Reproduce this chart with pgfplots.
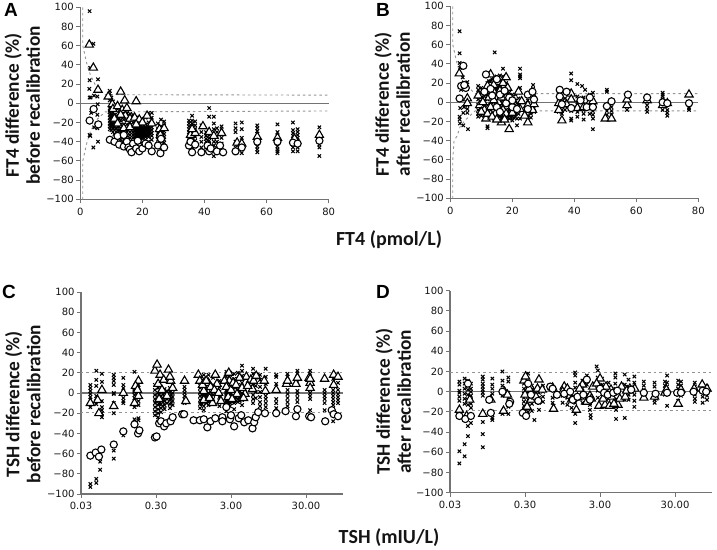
\documentclass[border=0pt]{standalone}
\usepackage{pgfplots}
\pgfplotsset{compat=1.18}
\usepackage{fontspec}
\setmainfont{DejaVu Sans}
\newfontfamily\lab{Carlito}
\newfontfamily\pan{Liberation Sans}
\definecolor{ax}{gray}{0.45}
\definecolor{txt}{gray}{0.08}
\pgfplotsset{
 panel/.style={scale only axis,axis x line=bottom,axis y line=left,
  axis line style={ax,line width=1.1pt,-},
  tick style={ax,line width=.9pt},major tick length=4pt,tick align=outside,
  ymin=-100,ymax=100,ytick={-100,-80,...,100},
  yticklabels={−100,−80,−60,−40,−20,0,20,40,60,80,100},
  tick label style={font=\fontsize{10}{10}\selectfont,text=txt},
  xticklabel style={yshift=-1pt},
  yticklabel style={xshift=1pt},
  clip=false,
  ylabel style={font=\lab\bfseries\fontsize{19.3}{21}\selectfont,align=center,text=txt},
 },
 ftaxis/.style={panel,width=248.4pt,height=192pt,xmin=0,xmax=80,xtick={0,20,40,60,80},xticklabels={0,20,40,60,80}},
 tshaxis/.style={panel,width=261.7pt,height=202pt,xmin=0.03,xmax=92.4,
   xtick={0.03,0.3,3,30},xticklabels={0.03,0.30,3.00,30.00},minor xtick={}},
 xs/.style={only marks,mark=x,mark size=2.4pt,mark options={black,line width=1.05pt},black},
 tr/.style={only marks,mark=triangle*,mark size=4.8pt,mark options={fill=white,draw=black,line width=1.1pt},black},
 ci/.style={only marks,mark=*,mark size=3.6pt,mark options={fill=white,draw=black,line width=1.1pt},black},
 zero/.style={no marks,ax,line width=1.4pt},
 lim/.style={no marks,gray!85,line width=.9pt,dash pattern=on 2.5pt off 3pt},
}
\begin{document}
\begin{tikzpicture}[x=1pt,y=1pt]
\path[use as bounding box] (0,0) rectangle (717,549);
\node[font=\pan\bfseries\fontsize{19}{19}\selectfont] at (11,539.5) {A};
\node[font=\pan\bfseries\fontsize{19}{19}\selectfont] at (383,539.5) {B};
\node[font=\pan\bfseries\fontsize{19}{19}\selectfont] at (9,257) {C};
\node[font=\pan\bfseries\fontsize{19}{19}\selectfont] at (383,257) {D};
\node[font=\lab\bfseries\fontsize{20}{20}\selectfont,text=txt] at (389,309) {FT4 (pmol/L)};
\node[font=\lab\bfseries\fontsize{20}{20}\selectfont,text=txt] at (389,11) {TSH (mIU/L)};

%% A
\begin{axis}[ftaxis,at={(80.3pt,349.7pt)},anchor=south west,
 ylabel={FT4 difference (\%)\\before recalibration},
 ylabel style={at={(axis description cs:-0.234,0.49)},anchor=center}]
\addplot[lim] coordinates {(0.8,100)(0.8,60)(2.2,40)(3.2,30)(5,18)(8,9)(80,8.5)};
\addplot[lim] coordinates {(0.8,-100)(0.8,-60)(2.2,-40)(3.2,-30)(5,-18)(8,-9)(80,-8)};
\addplot[zero] coordinates {(0,0)(80,0)};
\addplot[xs] coordinates {(3,96)(4.2,62)(3.2,37)(3,24)(2.9,15)(5.7,25)(3,6)(3.3,6)(4.4,8)(5.5,7)(3,-33)(3.2,-34)(4.2,-46)(5.7,-40)(4.5,-25)(5.5,-26)(3.5,-10)(5.5,-12)(5.6,-1)
(9.5,13)(9.5,10)(9.5,3)(9.5,-5)(9.5,-9)(9.5,-12)(9.5,-15)(9.5,-18)(9.5,-21)(9.5,-24)(9.5,-27)
(10,6)(10,-8)(10,-12)(10,-16)(10,-20)(10,-24)(10,-28)(10.5,2)(10.5,-10)(10.5,-14)(10.5,-18)(10.5,-22)(10.5,-26)(10.5,-30)
(11,-3)(11,-12)(11,-16)(11,-20)(11,-24)(11,-28)(11,-32)(12,-6)(12,-12)(12,-16)(12,-20)(12,-24)(12,-28)(12,-32)(12,-36)
(13,-8)(13,-14)(13,-18)(13,-22)(13,-26)(13,-30)(13,-34)(13,-38)(14,-8)(14,-13)(14,-17)(14,-22)(14,-26)(14,-30)(14,-34)(14,-38)(14,-42)
(15,-10)(15,-14)(15,-18)(15,-22)(15,-26)(15,-30)(15,-34)(15,-38)(15,-42)(16,-11)(16,-15)(16,-20)(16,-24)(16,-27)(16,-30)(16,-33)(16,-36)(16,-40)(16,-44)
(17,-12)(17,-16)(17,-20)(17,-24)(17,-27)(17,-30)(17,-33)(17,-36)(17,-40)(17,-48)
(18,-15)(18,-19)(18,-23)(18,-26)(18,-28)(18,-30)(18,-32)(18,-34)(18,-36)(18,-38)(18,-44)(18,-50)
(19,-16)(19,-20)(19,-24)(19,-26)(19,-28)(19,-30)(19,-32)(19,-34)(19,-36)(19,-40)(19,-50)
(20,-18)(20,-22)(20,-25)(20,-27)(20,-29)(20,-31)(20,-33)(20,-35)(20,-37)(20,-42)
(21,-15)(21,-22)(21,-25)(21,-27)(21,-29)(21,-31)(21,-33)(21,-35)(21,-38)(21,-45)
(22,-10)(22,-14)(22,-20)(22,-25)(22,-27)(22,-29)(22,-31)(22,-33)(22,-35)(22,-40)
(23,-10)(23,-15)(23,-21)(23,-25)(23,-28)(23,-31)(23,-34)(23,-38)
(17.5,-26)(17.5,-29)(17.5,-32)(17.5,-35)(18.5,-25)(18.5,-27)(18.5,-29)(18.5,-31)(18.5,-33)(18.5,-35)(19.5,-25)(19.5,-27)(19.5,-29)(19.5,-31)(19.5,-33)(19.5,-35)(20.5,-26)(20.5,-28)(20.5,-30)(20.5,-32)(20.5,-34)(21.5,-26)(21.5,-28)(21.5,-30)(21.5,-32)(21.5,-34)(22.5,-26)(22.5,-29)(22.5,-32)
(9.8,-11)(9.8,-14)(9.8,-17)(9.8,-20)(9.8,-23)(10.8,-13)(10.8,-16)(10.8,-19)(10.8,-22)(10.8,-25)(11.5,-14)(11.5,-18)(11.5,-22)(11.5,-26)(12.5,-16)(12.5,-20)(12.5,-24)(12.5,-28)
(25,-21)(25,-27)(25,-31)(25,-35)(25,-38)(25,-42)(26,-17)(26,-24)(26,-28)(26,-31)(26,-34)(26,-37)(26,-40)(27,-19)(27,-23)(27,-29)(27,-32)(27,-35)(27,-38)(27,-41)
(35,-18)(35,-21)(35,-24)(35,-27)(35,-30)(35,-33)(35,-36)(35,-40)(35,-44)(36,-13)(36,-18)(36,-21)(36,-24)(36,-28)(36,-32)(36,-36)(36,-40)(36,-46)
(37,-19)(37,-23)(37,-27)(37,-31)(37,-35)(37,-39)(37,-45)(39,-23)(39,-30)(39,-35)(39,-40)(39,-46)(39,-50)
(40.5,-30)(40.5,-34)(40.5,-37)(40.5,-40)(40.5,-43)(40.5,-46)(41.5,-5)(41.5,-14)(41.5,-33)(41.5,-36)(41.5,-39)(41.5,-42)(41.5,-45)(41.5,-48)
(43,-14)(43,-21)(43,-27)(43,-36)(43,-40)(43,-44)(43,-55)(44,-26)(44,-30)(44,-35)(44,-40)(44,-47)(45.5,-24)(45.5,-28)(45.5,-36)(45.5,-42)(45.5,-50)
(50,-21)(50,-26)(50,-30)(50,-40)(50,-44)(50,-52)(52,-20)(52,-27)(52,-36)(52,-42)(52,-48)(52,-52)
(57,-23)(57,-26)(57,-29)(57,-32)(57,-35)(57,-38)(57,-42)(57,-45)(57,-48)(57,-51)
(63.5,-22)(63.5,-30)(63.5,-34)(63.5,-38)(63.5,-42)(63.5,-45)(63.5,-48)(63.5,-50)(63.5,-52)
(68.5,-20)(68.5,-28)(68.5,-31)(68.5,-34)(68.5,-37)(68.5,-40)(68.5,-43)(68.5,-46)(68.5,-50)
(70,-27)(70,-30)(70,-33)(70,-36)(70,-39)(70,-42)(70,-46)(70,-50)(77,-25)(77,-33)(77,-38)(77,-43)(77,-46)(77,-55)};
\addplot[tr] coordinates {(2.9,61)(4.2,37)(5.7,14)(9,7)(10.3,-1)(10.5,-6)(12,-3)(13,12)(13.5,-7)(14.3,3)(15,-5)(14.5,-13)(16,-16)(18,2)(17.5,-15)(19,-17)(20,-20)(21.5,-13)(23,-21)(25.5,-27)(25.8,-33)(27,-26)(11,-16)(12,-21)(14,-26)(13,-12)(16,-25)(18,-22)(35.5,-33)(37,-31)(39.5,-24)(41.5,-30)(43,-34)(45.5,-31)(50.5,-41)(52,-42)(57,-35)(63.5,-36)(69,-37)(77,-33)(36,-27)};
\addplot[ci] coordinates {(3,-18)(4.3,-6)(5.8,-22)(9.5,-38)(11,-40)(12,-34)(12.5,-43)(14,-33)(14,-45)(15,-40)(15.5,-46)(16,-48)(16.5,-51)(17,-42)(18,-47)(18.5,-39)(19,-50)(20,-47)(21,-42)(23,-50)(22,-44)(25,-44)(25.8,-52)(26,-37)(27,-46)(35,-44)(35.5,-40)(36,-51)(37,-43)(39,-51)(41,-44)(41.5,-50)(42,-47)(44,-50)(45,-44)(46,-51)(50,-50)(52,-46)(57,-40)(63.5,-40)(68.5,-41)(70,-42)(77,-39)};
\end{axis}

%% B
\begin{axis}[ftaxis,width=248pt,at={(450.3pt,350.7pt)},anchor=south west,
 ylabel={FT4 difference (\%)\\after recalibration},
 ylabel style={at={(axis description cs:-0.234,0.49)},anchor=center}]
\addplot[lim] coordinates {(0.8,100)(0.8,60)(2.2,40)(3.2,30)(5,18)(8,9)(80,9)};
\addplot[lim] coordinates {(0.8,-100)(0.8,-60)(1.2,-40)(2.2,-35)(3.2,-25)(5,-18)(8,-9)(80,-9)};
\addplot[zero] coordinates {(0,0)(80,0)};
\addplot[xs] coordinates {(3,74)(3,51)(3,41)(3.2,36)(4,26)(5.5,21)(3.2,17)(3.5,13)(3.2,-6)(4.4,-5)(5.5,-3)(3,-15)(3,-18)(3.1,-22)(4.2,-24)(4.2,-11)(5.5,-11)(5.5,-7)(5.7,-28)
(9,17)(9,13)(9,8)(9,3)(9,-3)(9,-8)(9,-12)(9,-15)(10,15)(10,10)(10,5)(10,0)(10,-5)(10,-10)(10,-14)(11,11)(11,6)(11,1)(11,-4)(11,-9)(11,-14)
(12,-27)(12,-25)(12,20)(12,15)(12,8)(12,3)(12,-3)(12,-9)(12,-15)(13,22)(13,16)(13,10)(13,4)(13,-2)(13,-8)(13,-14)(14.3,52)(14,25)(14,18)(14,12)(14,6)(14,0)(14,-6)(14,-12)(14,-17)
(15,27)(15,20)(15,14)(15,8)(15,2)(15,-4)(15,-10)(15,-16)(16,28)(16,21)(16,15)(16,9)(16,3)(16,-3)(16,-9)(16,-15)(16,-19)(17,35)(17,27)(17,22)(17,14)(17,8)(17,2)(17,-4)(17,-10)(17,-16)(17,-19)
(18,27)(18,20)(18,10)(18,4)(18,-2)(18,-8)(18,-11)(18,-14)(18,-17)(19,10)(19,5)(19,0)(19,-5)(19,-8)(19,-11)(19,-14)(19,-17)(20,8)(20,3)(20,-3)(20,-8)(20,-12)(20,-15)(20,-19)
(17.5,-9)(17.5,-12)(17.5,-15)(18.5,-10)(18.5,-13)(18.5,-16)(19.5,-10)(19.5,-13)(19.5,-16)(20.5,-10)(20.5,-13)(20.5,-16)(21,-11)(22,-12)
(12.5,22)(13.5,24)(14.5,20)(15.5,23)(14.5,14)(15.5,16)
(21,8)(21,2)(21,-4)(21,-9)(21,-13)(21.5,-24)(21.5,-17)(22,10)(22,4)(22,-2)(22,-8)(22.5,35)(22.5,29)(22.5,27)(22.5,25)(22.5,15)(22.5,-17)
(25,8)(25,2)(25,-6)(25,-10)(25,-14)(25,-18)(26,-3)(26,-8)(26,-12)(26,-16)(26.7,18)(26.7,14)(27,6)(27,0)(27,-6)(27,-10)
(35,8)(35,3)(35,-2)(35,-6)(35,-10)(36,5)(36,1)(36,-1)(36,-4)(36,-8)(36,-12)(37,4)(37,0)(37,-4)(37,-8)
(39,30)(39,23)(39,3)(39,-5)(39,-9)(39,-17)(39,-19)(41,19)(41,6)(41,0)(41,-5)(41,-10)(41,-15)(42.5,17)(43.5,13)(43,5)(43,-3)(43,-8)(43,-12)(43,-18)(45,8)(45,2)(45,-6)(45,-12)(46,10)(46,5)(46,-2)(46,-9)(46,-13)(46,-17)(46,-28)
(50.5,13)(50.5,11)(50.5,-3)(50.5,-9)(50.5,-13)(52,-5)(52,-9)(52,-13)(57,5)(57,1)(57,-4)(57,-8)(63.5,2)(63.5,-3)(63.5,-7)(63.5,-10)
(68.5,10)(68.5,8)(68.5,6)(68.5,3)(68.5,-2)(68.5,-8)(70,-2)(70,-8)(70,-11)(70,-14)(77,-3)(77,-6)(77,-8)};
\addplot[tr] coordinates {(2.9,30)(4,17)(5.5,4)(5.5,-1)(9,7)(9.5,-3)(10.5,0)(11,-8)(11.5,-17)(12.5,5)(13,29)(13,-5)(14,11)(14.5,-12)(15.5,21)(15.5,0)(16.5,-21)(17,20)(17,-8)(18,26)(18,5)(18,-12)(19,-28)(19,0)(20,-11)(21,-4)(22,11)(22.5,-7)(25,-21)(25,-3)(26.5,-8)(27,-2)(35,-8)(35,-1)(36,-19)(37.5,-2)(39,9)(39,3)(41,-6)(43,-5)(45,0)(46,1)(50,-17)(52,-17)(57,-3)(57,3)(63.5,2)(68.5,-3)(70,-1)(77,8)
(10,-10)(12,-12)(13.5,-15)(14,2)(15,-18)(16,12)(16.5,5)(17.5,-18)(18.5,15)(12,17)(14,18)(20.5,-5)(23,1)(24,-14)};
\addplot[ci] coordinates {(3,4)(4.2,38)(3.5,17)(5,15)(4.5,18)(11.5,29)(11,11)(13,14)(13.5,7)(15,24)(15,-5)(16,-10)(16,8)(17.5,12)(18,-1)(19,5)(20,-5)(20,2)(21.5,-7)(25,8)(25,-7)(26.5,11)(27,3)(35.3,13)(35.3,6)(36,-2)(37.5,11)(39,-6)(42,2)(44,-5)(45,5)(46,-5)(50.5,-4)(52,1)(57.3,8)(63.5,5)(68.5,0)(70,-1)(77,-1)};
\end{axis}

%% C
\begin{semilogxaxis}[tshaxis,log basis x=10,at={(81pt,55pt)},anchor=south west,
 ylabel={TSH difference (\%)\\before recalibration},
 ylabel style={at={(axis description cs:-0.222,0.445)},anchor=center}]
\addplot[lim] coordinates {(0.03,20)(92.4,20)};
\addplot[lim] coordinates {(0.03,-19)(92.4,-19)};
\addplot[zero] coordinates {(0.03,0)(92.4,0)};
\addplot[xs] coordinates {(0.04,8)(0.04,5)(0.04,2)(0.04,-1)(0.04,-4)(0.04,-7)(0.04,-10)(0.04,-14)(0.04,-90)(0.04,-93)
(0.048,22)(0.048,13)(0.048,7)(0.048,-3)(0.048,-6)(0.048,-8)(0.048,-11)(0.048,-85)(0.048,-89)
(0.057,19)(0.057,11)(0.057,2)(0.057,-8)(0.057,-14)(0.057,-17)(0.057,-20)(0.057,-24)(0.054,-68)(0.054,-76)(0.054,-62)
(0.082,18)(0.082,15)(0.082,12)(0.082,8)(0.082,0)(0.082,-1)(0.082,-10)(0.082,-14)(0.082,-20)(0.082,-57)(0.082,-65)
(0.11,15)(0.11,8)(0.11,5)(0.11,-5)(0.11,-8)(0.11,-10)(0.11,-42)
(0.155,21)(0.155,5)(0.155,3)(0.155,1)(0.155,-2)(0.155,-5)(0.155,-8)(0.155,-11)(0.155,-14)(0.155,-26)
(0.175,12)(0.175,8)(0.175,5)(0.175,2)(0.175,-1)(0.175,-4)(0.175,-8)(0.175,-12)(0.175,-25)(0.175,-27)
(0.29,8)(0.29,3)(0.29,-2)(0.29,-6)(0.29,-10)(0.29,-14)(0.29,-18)(0.29,-22)(0.32,27)(0.32,10)(0.32,5)(0.32,0)(0.32,-4)(0.32,-8)(0.32,-12)(0.32,-16)(0.32,-20)(0.32,-24)
(0.35,5)(0.35,1)(0.35,-3)(0.35,-7)(0.35,-11)(0.35,-15)(0.35,-19)(0.39,4)(0.39,0)(0.39,-4)(0.39,-8)(0.39,-12)(0.39,-16)(0.46,5)(0.46,1)(0.46,-3)(0.46,-7)(0.46,-11)(0.46,-15)(0.5,4)(0.5,0)(0.5,-4)(0.5,-8)(0.5,-12)
(0.33,-2)(0.33,-5)(0.33,-8)(0.33,-11)(0.37,-1)(0.37,-5)(0.37,-9)(0.37,-13)(0.42,2)(0.42,-2)(0.42,-6)(0.42,-10)(0.48,-2)(0.48,-6)(0.48,-10)
(0.72,6)(0.72,3)(0.72,0)(0.72,-3)(0.72,-6)(0.72,-10)(1.16,10)(1.16,5)(1.16,1)(1.16,-3)(1.16,-7)(1.16,-11)(1.16,-15)(1.3,18)(1.3,14)(1.3,8)(1.3,3)(1.3,-1)(1.3,-3)(1.3,-5)(1.3,-7)(1.3,-9)(1.3,-13)(1.3,-17)(1.5,18)(1.5,10)(1.5,4)(1.5,0)(1.5,-3)(1.5,-6)(1.5,-9)(1.5,-12)
(1.23,-2)(1.23,-5)(1.23,-8)(1.23,-11)(1.4,-2)(1.4,-4)(1.4,-6)(1.4,-8)(1.4,-10)(1.6,-2)(1.6,-4)(1.6,-6)(1.6,-8)(1.6,-10)
(1.73,15)(1.73,8)(1.73,3)(1.73,-2)(1.73,-6)(1.73,-10)(2.1,12)(2.1,6)(2.1,1)(2.1,-4)(2.1,-8)(2.1,-13)(2.6,21)(2.6,16)(2.6,10)(2.6,5)(2.6,2)(2.6,0)(2.6,-2)(2.6,-4)(2.6,-6)(2.6,-8)(2.6,-10)(2.6,-14)(2.6,-18)
(2.75,1)(2.75,-2)(2.75,-5)(2.75,-8)(2.75,-10)(3.1,3)(3.1,0)(3.1,-3)(3.1,-5)(3.1,-7)(3.1,-9)(3.5,4)(3.5,1)(3.5,-2)(3.5,-5)(3.5,-8)(3.9,6)(3.9,2)(3.9,-2)(3.9,-5)(3.9,-8)
(2.9,20)(2.9,15)(2.9,8)(2.9,3)(2.9,0)(2.9,-2)(2.9,-4)(2.9,-6)(2.9,-8)(2.9,-10)(2.9,-13)(3.3,19)(3.3,14)(3.3,8)(3.3,3)(3.3,0)(3.3,-2)(3.3,-4)(3.3,-6)(3.3,-8)(3.3,-10)(3.3,-16)
(3.7,20)(3.7,14)(3.7,8)(3.7,3)(3.7,0)(3.7,-3)(3.7,-6)(3.7,-9)(4.2,27)(4.2,22)(4.2,17)(4.2,10)(4.2,5)(4.2,0)(4.2,-3)(4.2,-7)(4.2,-12)
(5.9,24)(5.9,19)(5.9,12)(5.9,8)(5.9,3)(5.9,-2)(5.9,-6)(5.9,-10)(6.4,15)(6.4,7)(6.4,1)(6.4,-5)(7.3,18)(7.3,13)(7.3,6)(7.3,1)(7.3,-4)(7.3,-9)(7.3,-13)(7.3,-17)
(8.7,24)(8.7,16)(8.7,9)(8.7,2)(8.7,0)(8.7,-3)(8.7,-6)(8.7,-10)(8.7,-14)(12,18)(12,16)(12,9)(12,-6)(12,-10)(12,-15)
(17,19)(17,16)(17,13)(17,9)(17,3)(17,-1)(17,-5)(17,-9)(17,-13)(23,22)(23,19)(23,15)(23,11)(23,2)(23,-1)(23,-5)(23,-9)
(34,22)(34,19)(34,15)(34,11)(34,8)(34,3)(34,0)(34,-3)(34,-6)(34,-17)(53,3)(53,0)(53,-3)(53,-6)(53,-10)(53,-17)
(69,14)(69,8)(69,3)(69,0)(69,-3)(69,-6)(69,-9)(69,-12)(69,-28)(80,10)(80,3)(80,-1)(80,-4)(80,-7)(80,-10)};
\addplot[tr] coordinates {(0.04,-10)(0.05,-7)(0.052,-20)(0.057,3)(0.082,-13)(0.11,0)(0.155,-10)(0.175,12)(0.175,-3)(0.29,22)(0.31,28)(0.32,9)(0.34,18)(0.38,13)(0.44,23)(0.47,12)(0.46,16)(0.72,12)(0.75,-8)(1.1,18)(1.15,12)(1.3,2)(1.5,10)(1.7,-10)(1.85,18)(1.95,9)(2.2,-8)(2.8,20)(2.85,12)(3.2,10)(3.4,1)(3.6,-1)(4.6,-1)(4.8,16)(5.5,13)(5.8,4)(8.3,12)(8.6,2)(12,3)(16.5,9)(22,9)(33,15)(34,10)(34,5)(53,14)(70,18)(70,8)(80,16)
(0.36,3)(0.42,-3)(0.5,5)(0.33,-6)(1.25,8)(1.4,12)(1.6,6)(1.3,-7)(1.55,-5)(1.8,3)(2.05,0)(2.45,12)(2.6,6)(2.75,-4)(3,3)(3.1,-6)(3.5,8)(3.9,15)(4.2,5)(4.4,-5)(5,7)(6,12)(6.5,17)(0.16,7)(0.17,3)(17,12)(23,15)(34,14)};
\addplot[ci] coordinates {(0.04,-62)(0.047,-59)(0.052,-63)(0.056,-56)(0.082,-51)(0.11,-38)(0.155,-31)(0.173,-40)(0.18,-37)(0.29,-44)(0.305,-43)(0.33,-30)(0.35,-28)(0.385,-33)(0.41,-30)(0.47,-28)(0.5,-24)(0.67,-21)(0.71,-21)(0.95,-27)(1.15,-27)(1.3,-26)(1.45,-34)(1.6,-28)(1.85,-25)(2.3,-24)(2.3,-28)(2.6,-14)(2.9,-26)(3,-22)(3.3,-33)(3.8,-25)(4.1,-22)(4.5,-29)(5.1,-27)(5.8,-35)(6.1,-29)(6.4,-24)(6.9,-19)(8.5,-20)(12,-20)(16,-18)(22,-23)(23,-16)(33,-23)(35,-24)(54,-28)(66,-17)(70,-21)(80,-23)};
\end{semilogxaxis}

%% D
\begin{semilogxaxis}[tshaxis,log basis x=10,at={(450pt,56.3pt)},anchor=south west,
 ylabel={TSH difference (\%)\\after recalibration},
 ylabel style={at={(axis description cs:-0.217,0.45)},anchor=center}]
\addplot[lim] coordinates {(0.03,19)(92.4,19)};
\addplot[lim] coordinates {(0.03,-19)(92.4,-19)};
\addplot[zero] coordinates {(0.03,0)(92.4,0)};
\addplot[xs] coordinates {(0.04,10)(0.04,7)(0.04,1)(0.04,-1)(0.04,-5)(0.04,-9)(0.04,-71)(0.04,-59)
(0.047,13)(0.047,8)(0.047,3)(0.047,-2)(0.047,-7)(0.047,-12)(0.047,-64)(0.047,-52)
(0.052,11)(0.052,6)(0.052,2)(0.052,-3)(0.052,-8)(0.052,-13)(0.052,-34)(0.052,-44)
(0.057,8)(0.057,3)(0.057,0)(0.057,-4)(0.057,-8)(0.057,-12)(0.057,-16)(0.057,-31)
(0.082,15)(0.082,12)(0.082,8)(0.082,5)(0.082,2)(0.082,-1)(0.082,-4)(0.082,-30)(0.082,-42)(0.082,-55)
(0.11,13)(0.11,7)(0.11,3)(0.11,-2)(0.11,-20)(0.11,-23)(0.11,-26)(0.11,-28)
(0.15,20)(0.15,11)(0.15,6)(0.15,1)(0.15,-4)(0.15,-22)(0.18,14)(0.18,10)(0.18,-1)(0.18,-6)(0.18,-15)(0.18,-22)
(0.29,8)(0.29,3)(0.29,-2)(0.29,-6)(0.29,-10)(0.29,-14)(0.29,-18)(0.33,18)(0.33,10)(0.33,5)(0.33,0)(0.33,-4)(0.33,-8)(0.33,-12)(0.33,-16)(0.33,-20)
(0.37,6)(0.37,2)(0.37,-3)(0.37,-8)(0.37,-12)(0.37,-19)(0.4,-28)(0.46,3)(0.46,-1)(0.46,-6)(0.46,-11)(0.46,-18)(0.52,6)(0.52,0)(0.52,-5)(0.52,-10)
(0.7,3)(0.7,-6)(0.7,-11)(0.72,-14)(0.95,3)(0.95,-4)(0.95,-11)(1.1,2)(1.1,-6)(1.1,-13)(1.25,-16)(1.4,19)(1.4,16)(1.4,9)(1.4,4)(1.4,-5)(1.4,-11)(1.4,-22)(1.4,-31)
(1.75,11)(1.75,3)(1.75,-5)(1.75,-11)(2,16)(2,7)(2,-3)(2,-9)(2.2,-13)(2.2,-18)(2.25,-23)(2.25,-26)
(2.7,25)(2.8,21)(2.8,14)(2.8,8)(2.8,1)(2.8,-6)(3.2,13)(3.2,7)(3.2,2)(3.2,-5)(3.9,9)(3.9,4)(3.9,-1)(3.9,-7)(4.8,18)(4.8,14)(4.8,8)(4.8,3)(4.8,-2)(4.8,-8)(4.9,-18)(4.9,-27)
(6.4,17)(6.4,7)(6.4,3)(6.4,-2)(6.4,-8)(6.4,-26)(7.2,12)(7.2,5)(7.2,-3)(7.2,-8)(8.6,15)(8.6,9)(8.6,5)(8.6,1)(8.6,-3)(8.6,-9)(8.6,-15)
(11.5,10)(11.5,6)(11.5,2)(11.5,-3)(16,9)(16,5)(16,-4)(16,-8)(16,-11)(17,-7)(22,10)(22,6)(22,3)(22,-3)(23.5,16)(23.5,9)(23.5,5)(23.5,-14)
(33,11)(33,7)(33,3)(33,-3)(33,-9)(36,10)(36,6)(36,2)(36,-4)(55,9)(55,5)(55,-3)(55,-7)(55,-10)(70,5)(70,-5)(70,-11)(80,5)(80,0)(80,-4)(80,-8)};
\addplot[tr] coordinates {(0.04,-18)(0.05,-24)(0.055,-8)(0.082,-22)(0.105,-8)(0.155,-19)(0.16,0)(0.175,-3)(0.29,11)(0.305,15)(0.32,-15)(0.35,5)(0.38,-2)(0.46,12)(0.44,3)(0.51,2)(0.7,4)(0.72,-17)(1,5)(1.1,3)(1.2,-4)(1.45,-18)(1.5,-6)(1.75,7)(1.85,-5)(2,-10)(2.2,-4)(2.9,-14)(3,13)(3.1,3)(3.5,-13)(4,-14)(4.2,2)(5.2,-13)(5.5,-7)(6.5,-5)(7.5,3)(8.7,3)(11.5,-6)(16,-5)(22,-1)(23,2)(33,-12)(36,2)(54,3)(69,7)(80,3)
(0.3,-3)(0.34,3)(0.36,-8)(0.42,-5)(0.95,0)(1.25,-8)(1.6,3)(2.3,-7)(2.4,5)(2.7,8)(3.3,-7)(3.6,5)(4.3,-5)(4.6,-12)(5.8,5)(6.8,1)};
\addplot[ci] coordinates {(0.04,-24)(0.052,8)(0.048,-27)(0.057,-24)(0.1,-8)(0.105,-21)(0.15,0)(0.19,-10)(0.185,-12)(0.28,-21)(0.31,-24)(0.33,8)(0.36,-3)(0.45,-9)(0.65,5)(0.7,3)(0.8,-3)(1,-2)(1.2,0)(1.3,-8)(1.5,-5)(1.8,-3)(2,12)(2.2,-8)(3,3)(3.4,-1)(3.8,-3)(4.5,-1)(5.1,1)(7.8,2)(11.5,-1)(16.5,-2)(23.5,-1)(32,-1)(36,-1)(53,0)(70,1)(78,0)};
\end{semilogxaxis}
\end{tikzpicture}
\end{document}
